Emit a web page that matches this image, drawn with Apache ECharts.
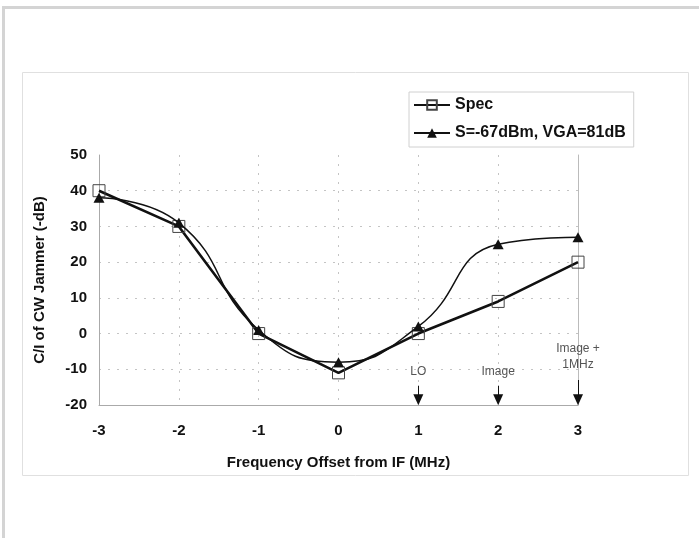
<!DOCTYPE html>
<html>
<head>
<meta charset="utf-8">
<script src="https://cdn.jsdelivr.net/npm/echarts@6/dist/echarts.min.js"></script>
<style>
  html, body { margin: 0; padding: 0; background: #fff; }
  #chart { width: 699px; height: 538px; }
</style>
</head>
<body>
<div id="chart"></div>
<script>
  // frequency offset (MHz)
  const offsets = [-3, -2, -1, 0, 1, 2, 3];
  // C/I values (-dB)
  const specValues = [40, 30, 0, -11, 0, 9, 20];
  const measValues = [38, 31, 1, -8, 2, 25, 27];
  const yTicks = [-20, -10, 0, 10, 20, 30, 40, 50];

  // annotations: label, x position, label y, arrow top
  const annoX = [1, 2, 3];
  const annoText = ['LO', 'Image', 'Image +\n1MHz'];
  const annoLabelY = [-10.8, -10.8, -6.4];
  const arrowTop = [-14.6, -14.6, -13.0];

  const pairs = (xs, ys) => xs.map((x, i) => [x, ys[i]]);

  const myChart = echarts.init(document.getElementById('chart'));
  const font = 'Liberation Sans, Arial, sans-serif';
  const boldText = { fontFamily: font, fontWeight: 'bold', fontSize: 15, color: '#111' };

  const option = {
    backgroundColor: '#fff',
    animation: false,
    graphic: [
      { type: 'rect', shape: { x: 2, y: 6, width: 697, height: 3 }, style: { fill: '#d4d4d4' } },
      { type: 'rect', shape: { x: 2, y: 6, width: 3, height: 532 }, style: { fill: '#d4d4d4' } },
      { type: 'rect', shape: { x: 22.5, y: 72.5, width: 666, height: 403 },
        style: { fill: 'none', stroke: '#e0e0e0', lineWidth: 1 }, z: -1 }
    ],
    legend: {
      data: ['Spec', 'S=-67dBm, VGA=81dB'],
      orient: 'vertical',
      left: 409,
      top: 92,
      itemWidth: 36,
      itemHeight: 12,
      itemGap: 12,
      padding: [5, 8, 6, 4],
      borderColor: '#d0d0d0',
      borderWidth: 1,
      textStyle: Object.assign({}, boldText, { fontSize: 16 })
    },
    grid: { left: 99, right: 121, top: 155, bottom: 133 },
    xAxis: {
      type: 'value',
      min: -3, max: 3, interval: 1,
      name: 'Frequency Offset from IF (MHz)',
      nameLocation: 'middle',
      nameGap: 50,
      nameTextStyle: boldText,
      axisLine: { onZero: false, lineStyle: { color: '#aaa', width: 1 } },
      axisTick: { show: false },
      axisLabel: Object.assign({ margin: 18 }, boldText),
      splitLine: { show: true, showMinLine: false, showMaxLine: false,
        lineStyle: { color: '#c4c4c4', type: [2, 7] } }
    },
    yAxis: [
      {
        type: 'value',
        min: yTicks[0], max: yTicks[yTicks.length - 1], interval: 10,
        name: 'C/I of CW Jammer (-dB)',
        nameLocation: 'middle',
        nameGap: 52,
        nameTextStyle: boldText,
        axisLine: { show: true, onZero: false, lineStyle: { color: '#aaa', width: 1 } },
        axisTick: { show: false },
        axisLabel: Object.assign({ margin: 12 }, boldText),
        splitLine: { show: true, showMinLine: false, showMaxLine: false,
          lineStyle: { color: '#c4c4c4', type: [2, 7] } }
      },
      {
        // right-hand frame line at x = 3
        type: 'value',
        position: 'right',
        min: yTicks[0], max: yTicks[yTicks.length - 1], interval: 10,
        axisLine: { show: true, onZero: false, lineStyle: { color: '#bbb', width: 1 } },
        axisTick: { show: false },
        axisLabel: { show: false },
        splitLine: { show: false }
      }
    ],
    series: [
      {
        name: 'Spec',
        type: 'line',
        data: pairs(offsets, specValues),
        symbol: 'rect',
        symbolSize: 12,
        itemStyle: { color: 'rgba(255,255,255,0)', borderColor: '#444', borderWidth: 1 },
        lineStyle: { color: '#111', width: 2.6 },
        z: 3
      },
      {
        name: 'S=-67dBm, VGA=81dB',
        type: 'line',
        data: pairs(offsets, measValues),
        smooth: 0.5,
        symbol: 'triangle',
        symbolSize: [11, 10],
        itemStyle: { color: '#111' },
        lineStyle: { color: '#111', width: 1.5 },
        z: 4
      },
      {
        name: 'annotations',
        type: 'line',
        data: [],
        silent: true,
        markLine: {
          silent: true,
          symbol: ['none', 'triangle'],
          symbolSize: [10, 11],
          label: { show: false },
          lineStyle: { color: '#111', width: 1, type: 'solid' },
          data: annoX.map((x, i) => [
            { coord: [x, arrowTop[i]] },
            { coord: [x, -18.5] }
          ])
        },
        markPoint: {
          silent: true,
          symbol: 'rect',
          symbolSize: 1,
          itemStyle: { color: 'rgba(0,0,0,0)' },
          label: {
            show: true, position: 'inside',
            fontFamily: font, fontSize: 12, color: '#555', lineHeight: 16,
            formatter: p => p.name
          },
          data: annoX.map((x, i) => ({ name: annoText[i], coord: [x, annoLabelY[i]] }))
        }
      }
    ]
  };
  myChart.setOption(option);
</script>
</body>
</html>
